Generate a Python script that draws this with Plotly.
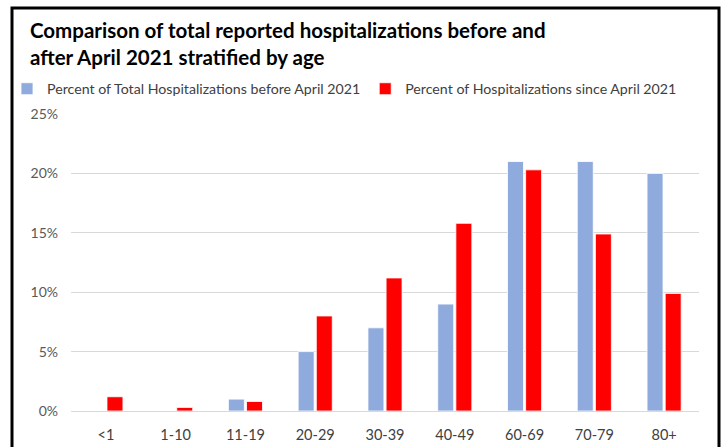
import plotly.graph_objects as go

age_groups = ["<1", "1-10", "11-19", "20-29", "30-39", "40-49", "60-69", "70-79", "80+"]
before_apr_2021 = [0.0, 0.0, 1.0, 5.0, 7.0, 9.0, 21.0, 21.0, 20.0]
since_apr_2021 = [1.2, 0.3, 0.8, 8.0, 11.2, 15.8, 20.3, 14.9, 9.9]
y_ticks = [0, 5, 10, 15, 20, 25]

BLUE = "#8FAADC"
RED = "#FF0000"
FONT = "Lato, Roboto, Arial"

W, H = 723, 447
L, R, T, B = 71, 24, 114, 36
pw, ph = W - L - R, H - T - B

fig = go.Figure()
fig.add_trace(go.Bar(
    x=age_groups, y=before_apr_2021,
    name="Percent of Total Hospitalizations before April 2021",
    marker=dict(color=BLUE, line=dict(color="white", width=0.8)),
))
fig.add_trace(go.Bar(
    x=age_groups, y=since_apr_2021,
    name="Percent of Hospitalizations since April 2021",
    marker=dict(color=RED, line=dict(color="white", width=0.8)),
))

# black frame around the whole chart (pixel positions -> paper coords)
px = lambda v: (v - L) / pw
py = lambda v: (H - B - v) / ph
fig.add_shape(type="rect", xref="paper", yref="paper",
              x0=px(12), x1=px(719), y0=py(470), y1=py(8),
              line=dict(color="black", width=3), layer="above")

fig.update_layout(
    width=W, height=H,
    margin=dict(l=L, r=R, t=T, b=B, autoexpand=False),
    paper_bgcolor="white", plot_bgcolor="white",
    font=dict(family=FONT, size=14, color="#595959"),
    title=dict(
        text="Comparison of total reported hospitalizations before and<br>after April 2021 stratified by age",
        x=30 / W, xanchor="left", y=1 - 38 / H, yanchor="top",
        font=dict(family=FONT, size=20.5, color="black", weight="bold"),
    ),
    barmode="group", bargap=0.48, bargroupgap=0.12,
    legend=dict(
        orientation="h", x=px(7), xanchor="left", y=py(89), yanchor="middle",
        font=dict(size=14.2, color="#404040"), bgcolor="rgba(0,0,0,0)",
        itemwidth=30, traceorder="normal",
    ),
)
fig.update_xaxes(showgrid=False, showline=True, linecolor="#D9D9D9", linewidth=1,
                 ticks="", tickfont=dict(size=14.5, color="#404040"), ticklabelstandoff=11)
fig.update_yaxes(range=[0, 25], tickvals=y_ticks, ticktext=[f"{v}%" for v in y_ticks],
                 showgrid=True, gridcolor="#D9D9D9", gridwidth=1, zeroline=False,
                 tickfont=dict(size=14, color="#595959"), ticklabelstandoff=12,
                 fixedrange=True)

fig.write_html("out.html", config={"displayModeBar": False},
               post_script="document.body.style.margin='0';")
